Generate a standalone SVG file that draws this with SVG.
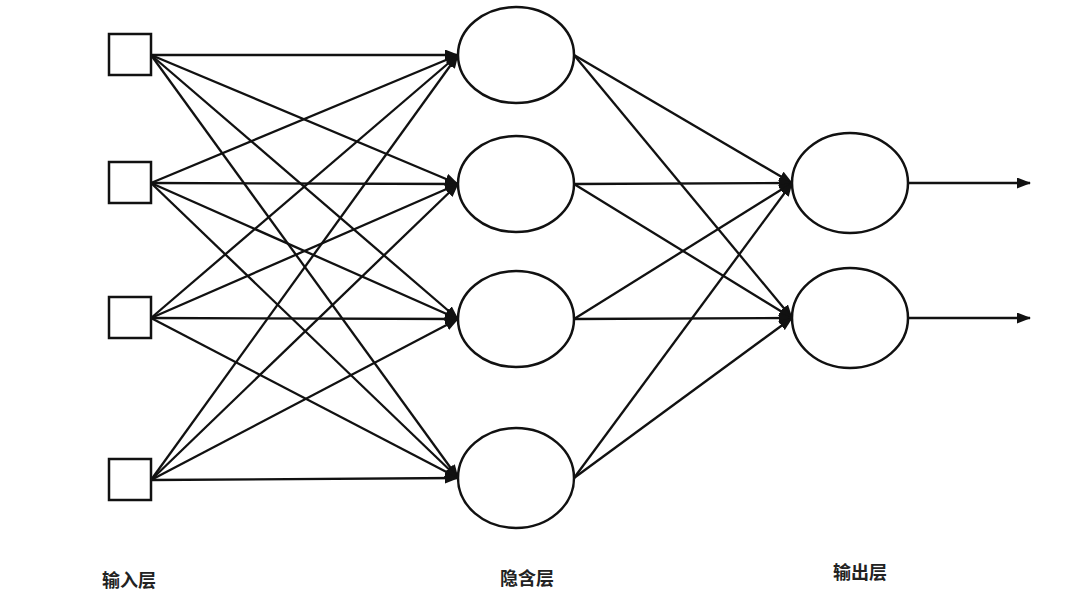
<svg xmlns="http://www.w3.org/2000/svg" width="1066" height="612" viewBox="0 0 1066 612">
<style>
.n{fill:#fff;stroke:#111;stroke-width:2.5}
.e{stroke:#111;stroke-width:2.3;fill:none;marker-end:url(#ah)}
.t{font-family:"Noto Sans CJK SC","Noto Sans",sans-serif;font-size:18px;font-weight:bold;fill:#222}
</style>
<defs>
<marker id="ah" viewBox="0 0 14 11" refX="13" refY="5.5" markerWidth="14" markerHeight="11" markerUnits="userSpaceOnUse" orient="auto">
<path d="M0,0 L14,5.5 L0,11 Z" fill="#111"/>
</marker>
</defs>
<rect width="1066" height="612" fill="#fff"/>
<g id="connectors">
<line class="e" x1="151" y1="55" x2="458" y2="55"/>
<line class="e" x1="151" y1="55" x2="458" y2="184"/>
<line class="e" x1="151" y1="55" x2="458" y2="319"/>
<line class="e" x1="151" y1="55" x2="458" y2="478"/>
<line class="e" x1="151" y1="183" x2="458" y2="55"/>
<line class="e" x1="151" y1="183" x2="458" y2="184"/>
<line class="e" x1="151" y1="183" x2="458" y2="319"/>
<line class="e" x1="151" y1="183" x2="458" y2="478"/>
<line class="e" x1="151" y1="318" x2="458" y2="55"/>
<line class="e" x1="151" y1="318" x2="458" y2="184"/>
<line class="e" x1="151" y1="318" x2="458" y2="319"/>
<line class="e" x1="151" y1="318" x2="458" y2="478"/>
<line class="e" x1="151" y1="480" x2="458" y2="55"/>
<line class="e" x1="151" y1="480" x2="458" y2="184"/>
<line class="e" x1="151" y1="480" x2="458" y2="319"/>
<line class="e" x1="151" y1="480" x2="458" y2="478"/>
<line class="e" x1="574" y1="55" x2="792" y2="183"/>
<line class="e" x1="574" y1="55" x2="792" y2="318"/>
<line class="e" x1="574" y1="184" x2="792" y2="183"/>
<line class="e" x1="574" y1="184" x2="792" y2="318"/>
<line class="e" x1="574" y1="319" x2="792" y2="183"/>
<line class="e" x1="574" y1="319" x2="792" y2="318"/>
<line class="e" x1="574" y1="478" x2="792" y2="183"/>
<line class="e" x1="574" y1="478" x2="792" y2="318"/>
<line class="e" x1="909" y1="183" x2="1030" y2="183"/>
<line class="e" x1="909" y1="318" x2="1030" y2="318"/>
</g>
<g id="in1"><rect class="n" x="109" y="34" width="42" height="41"/></g>
<g id="in2"><rect class="n" x="109" y="162" width="42" height="41"/></g>
<g id="in3"><rect class="n" x="109" y="297" width="42" height="41"/></g>
<g id="in4"><rect class="n" x="109" y="459" width="42" height="41"/></g>
<g id="h1"><ellipse class="n" cx="516" cy="55" rx="58" ry="48"/></g>
<g id="h2"><ellipse class="n" cx="516" cy="184" rx="58" ry="48"/></g>
<g id="h3"><ellipse class="n" cx="516" cy="319" rx="58" ry="48"/></g>
<g id="h4"><ellipse class="n" cx="516" cy="478" rx="58" ry="50"/></g>
<g id="o1"><ellipse class="n" cx="850" cy="183" rx="58" ry="50"/></g>
<g id="o2"><ellipse class="n" cx="850" cy="318" rx="58" ry="50"/></g>
<g id="labels">
<text class="t" x="129" y="587" text-anchor="middle">输入层</text>
<text class="t" x="527" y="585" text-anchor="middle">隐含层</text>
<text class="t" x="860" y="579" text-anchor="middle">输出层</text>
</g>
</svg>
